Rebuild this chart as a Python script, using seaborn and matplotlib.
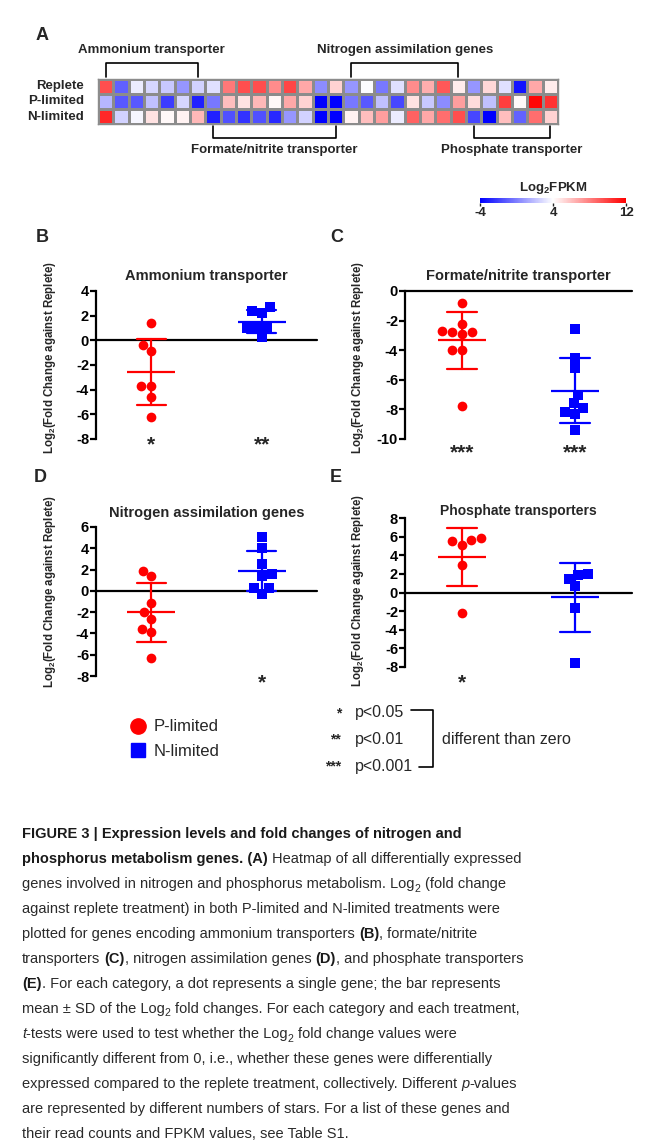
import matplotlib
matplotlib.use("Agg")

import matplotlib.pyplot as plt
import numpy as np
import pandas as pd
import seaborn as sns
from matplotlib import font_manager
from matplotlib.colors import LinearSegmentedColormap
from matplotlib.lines import Line2D

# ── Data ─────────────────────────────────────────────────────────────────────
conditions = ["Replete", "P-limited", "N-limited"]
replete = [9.5, -1.0, 3.4, 2.7, 2.3, 0.7, 2.6, 3.0, 8.2, 9.5, 9.5, 7.6, 9.8, 6.7, 0.4,
           5.4, 0.7, 3.9, -0.2, 3.0, 7.6, 6.5, 9.2, 4.6, 0.7, 5.2, 3.0, -3.4, 6.7, 4.6]
p_limited = [1.7, -1.2, -1.2, 2.0, -2.1, 2.7, -3.0, -0.2, 6.0, 4.9, 6.2, 4.2, 6.7, 5.4, -4.0,
             -4.0, -0.2, -1.2, 2.0, -1.8, 4.9, 2.3, 0.4, 7.0, 5.1, 2.0, 10.0, 4.2, 11.8, 10.4]
n_limited = [10.7, 2.6, 3.7, 4.9, 4.2, 4.4, 6.2, -3.0, -1.5, -2.4, -1.5, -2.7, 0.7, 2.6, -4.0,
             -4.0, 4.4, 6.0, 7.0, 3.4, 8.9, 6.7, 8.5, 9.5, -1.8, -4.0, 6.0, -0.9, 8.5, 5.4]
group_names = ["Ammonium transporter", "Formate/nitrite transporter",
               "Nitrogen assimilation genes", "Phosphate transporter"]
group_sizes = [7, 9, 8, 6]
cbar_ticks = [-4, 4, 12]

treatments = ["P-limited", "N-limited"]
amm_p = [1.4, -0.4, -0.9, -3.7, -3.7, -4.6, -6.2]
amm_n = [2.4, 2.2, 2.7, 1.0, 1.0, 1.0, 0.3]
fn_p = [-0.8, -2.2, -2.8, -2.9, -2.8, -2.7, -4.0, -4.0, -7.8]
fn_n = [-2.6, -4.5, -5.2, -7.0, -7.6, -7.9, -8.2, -8.3, -9.4]
nas_p = [1.9, 1.4, -1.1, -2.0, -2.6, -3.6, -3.9, -6.3]
nas_n = [5.1, 4.0, 2.5, 1.6, 1.4, 0.3, 0.3, -0.3]
pho_p = [5.6, 5.1, 5.5, 5.8, 3.0, -2.2]
pho_n = [1.9, 0.7, 1.5, 2.0, -1.7, -7.6]
stars_b = ["*", "**"]
stars_c = ["***", "***"]
stars_d = ["", "*"]
stars_e = ["*", ""]

sig_stars = ["*", "**", "***"]
sig_labels = ["p<0.05", "p<0.01", "p<0.001"]

caption = [
    [("FIGURE 3 | Expression levels and fold changes of nitrogen and", "b")],
    [("phosphorus metabolism genes. (A)", "b"), (" Heatmap of all differentially expressed", "r")],
    [("genes involved in nitrogen and phosphorus metabolism. Log", "r"), ("2", "sub"),
     (" (fold change", "r")],
    [("against replete treatment) in both P-limited and N-limited treatments were", "r")],
    [("plotted for genes encoding ammonium transporters ", "r"), ("(B)", "b"),
     (", formate/nitrite", "r")],
    [("transporters ", "r"), ("(C)", "b"), (", nitrogen assimilation genes ", "r"), ("(D)", "b"),
     (", and phosphate transporters", "r")],
    [("(E)", "b"), (". For each category, a dot represents a single gene; the bar represents", "r")],
    [("mean \u00b1 SD of the Log", "r"), ("2", "sub"),
     (" fold changes. For each category and each treatment,", "r")],
    [("t", "i"), ("-tests were used to test whether the Log", "r"), ("2", "sub"),
     (" fold change values were", "r")],
    [("significantly different from 0, i.e., whether these genes were differentially", "r")],
    [("expressed compared to the replete treatment, collectively. Different ", "r"), ("p", "i"),
     ("-values", "r")],
    [("are represented by different numbers of stars. For a list of these genes and", "r")],
    [("their read counts and FPKM values, see Table S1.", "r")],
]

# ── Style ────────────────────────────────────────────────────────────────────
sns.set_theme(style="white")
installed = {f.name for f in font_manager.fontManager.ttflist}
if "Liberation Sans Narrow" in installed:
    CAP_FONT, CAP_SIZE = "Liberation Sans Narrow", 12
else:
    CAP_FONT, CAP_SIZE = "Liberation Sans", 10.5
plt.rcParams["font.family"] = ["Liberation Sans", "DejaVu Sans"]
plt.rcParams["axes.unicode_minus"] = False
plt.rcParams["mathtext.fontset"] = "custom"
plt.rcParams["mathtext.rm"] = "Liberation Sans"
plt.rcParams["mathtext.bf"] = "Liberation Sans:bold"

RED, BLUE = "#ff0000", "#0000ff"
W, H = 655, 1145
fig = plt.figure(figsize=(W / 100, H / 100), dpi=100)
fig.patch.set_facecolor("white")


def box(x0, y0, x1, y1):
    """Pixel rectangle (top-left origin) -> figure fraction rect."""
    return [x0 / W, 1 - y1 / H, (x1 - x0) / W, (y1 - y0) / H]


# overlay in pixel coordinates for panel letters, legends and caption
ax_o = fig.add_axes([0, 0, 1, 1])
ax_o.set_xlim(0, W)
ax_o.set_ylim(H, 0)
ax_o.axis("off")

# ── A: heatmap ───────────────────────────────────────────────────────────────
hm = pd.DataFrame([replete, p_limited, n_limited], index=conditions)
cmap = LinearSegmentedColormap.from_list("fpkm", [BLUE, "#ffffff", RED])
ax_h = fig.add_axes(box(98, 79, 558, 124))
cax = fig.add_axes(box(480, 198, 626, 203))
sns.heatmap(hm, ax=ax_h, cmap=cmap, vmin=-4, vmax=12, linewidths=1, linecolor="#8c8c8c",
            xticklabels=False, yticklabels=conditions, cbar_ax=cax,
            cbar_kws={"orientation": "horizontal"})
for lab in ax_h.get_yticklabels():
    lab.set_rotation(0)
    lab.set_fontsize(9.5)
    lab.set_fontweight("bold")
ax_h.tick_params(left=False, pad=4)
ax_h.set_xlabel("")
for sp in ax_h.spines.values():
    sp.set_visible(True)
    sp.set_color("#8c8c8c")
    sp.set_linewidth(1)

cbar = ax_h.collections[0].colorbar
cbar.set_ticks(cbar_ticks)
cbar.outline.set_visible(False)
cax.tick_params(axis="x", length=2, width=1, pad=1, bottom=True, labelsize=9.5)
for lab in cax.get_xticklabels():
    lab.set_fontweight("bold")
cax.set_title("Log$_\\mathbf{2}$FPKM", fontsize=9.5, fontweight="bold", pad=5)

# group brackets
edges = np.concatenate([[0], np.cumsum(group_sizes)])
for k, name in enumerate(group_names):
    x0, x1 = edges[k] + 0.5, edges[k + 1] - 0.5
    if k % 2 == 0:  # above
        ax_h.plot([x0, x0, x1, x1], [-0.15, -1.05, -1.05, -0.15], color="black", lw=1.2,
                  clip_on=False)
        ax_h.text((x0 + x1) / 2, -1.93, name, ha="center", va="center", fontsize=9.5,
                  fontweight="bold")
    else:  # below
        ax_h.plot([x0, x0, x1, x1], [3.15, 3.95, 3.95, 3.15], color="black", lw=1.2,
                  clip_on=False)
        ax_h.text((x0 + x1) / 2, 4.75, name, ha="center", va="center", fontsize=9.5,
                  fontweight="bold")

# ── B–E: scatter panels ──────────────────────────────────────────────────────
panels = [
    dict(rect=(96, 291, 317, 439), p=amm_p, n=amm_n, title="Ammonium transporter",
         ylim=(-8, 4), step=2, stars=stars_b, star_off=8.0, lab=(-0.17, 0.55), pad=8,
         tsize=10.5),
    dict(rect=(405, 291, 632, 439), p=fn_p, n=fn_n, title="Formate/nitrite transporter",
         ylim=(-10, 0), step=2, stars=stars_c, star_off=14.0, lab=(-0.17, 0.55), pad=8,
         tsize=10.5),
    dict(rect=(96, 527, 317, 676), p=nas_p, n=nas_n, title="Nitrogen assimilation genes",
         ylim=(-8, 6), step=2, stars=stars_d, star_off=9.0, lab=(-0.17, 0.57), pad=7,
         tsize=10.5),
    dict(rect=(405, 518, 632, 667), p=pho_p, n=pho_n, title="Phosphate transporters",
         ylim=(-8, 8), step=2, stars=stars_e, star_off=15.5, lab=(-0.17, 0.51), pad=2,
         tsize=10),
]

for cfg in panels:
    ax = fig.add_axes(box(*cfg["rect"]))
    df = pd.DataFrame({
        "treatment": [treatments[0]] * len(cfg["p"]) + [treatments[1]] * len(cfg["n"]),
        "value": cfg["p"] + cfg["n"],
    })
    ax.axhline(0, color="black", lw=1.6, clip_on=False, zorder=1)
    sns.swarmplot(data=df[df.treatment == treatments[0]], x="treatment", y="value",
                  order=treatments, color=RED, marker="o", size=7, linewidth=0, ax=ax,
                  zorder=3)
    sns.swarmplot(data=df[df.treatment == treatments[1]], x="treatment", y="value",
                  order=treatments, color=BLUE, marker="s", size=7, linewidth=0, ax=ax,
                  zorder=3)
    sns.pointplot(data=df, x="treatment", y="value", hue="treatment", order=treatments,
                  hue_order=treatments, palette=[RED, BLUE], errorbar="sd", capsize=0.26,
                  markers="_", markersize=34, markeredgewidth=1.6, linestyles="none",
                  err_kws={"linewidth": 1.6}, legend=False, ax=ax)
    ax.set_xlim(-0.5, 1.5)
    ax.set_ylim(*cfg["ylim"])
    ax.set_yticks(np.arange(cfg["ylim"][0], cfg["ylim"][1] + 1, cfg["step"]))
    sns.despine(ax=ax, bottom=True)
    ax.spines["left"].set_linewidth(1.6)
    ax.spines["left"].set_color("black")
    ax.set_xticks([])
    ax.set_xlabel("")
    ax.tick_params(axis="y", left=True, direction="out", length=4, width=1.6, labelsize=10.5,
                   pad=1, colors="black")
    for lab in ax.get_yticklabels():
        lab.set_fontweight("bold")
    ax.set_ylabel("Log$_\\mathbf{2}$(Fold Change against Replete)", fontsize=8.3,
                  fontweight="bold")
    ax.yaxis.set_label_coords(*cfg["lab"])
    ax.set_title(cfg["title"], fontsize=cfg["tsize"], fontweight="bold", pad=cfg["pad"])
    for i, s in enumerate(cfg["stars"]):
        if s:
            ax.annotate(s, xy=(i, cfg["ylim"][0]), xytext=(0, -cfg["star_off"]),
                        textcoords="offset points", ha="center", va="baseline",
                        fontsize=15, fontweight="bold", annotation_clip=False)

# panel letters
for letter, (lx, ly) in zip("ABCDE", [(42, 36), (42, 238), (337, 238), (40, 478), (336, 478)]):
    ax_o.text(lx, ly, letter, ha="center", va="center", fontsize=13, fontweight="bold")

# ── Legends ──────────────────────────────────────────────────────────────────
handles = [
    Line2D([], [], marker="o", color=RED, linestyle="none", markersize=11),
    Line2D([], [], marker="s", color=BLUE, linestyle="none", markersize=10),
]
fig.legend(handles, treatments, loc="center left", bbox_to_anchor=(130 / W, 1 - 739 / H),
           frameon=False, fontsize=12, handlelength=1, handletextpad=0.4, labelspacing=0.55,
           borderpad=0, borderaxespad=0)

for k, (s, lab) in enumerate(zip(sig_stars, sig_labels)):
    yy = 713 + 26.5 * k
    ax_o.text(341, yy, s, ha="right", va="center", fontsize=10, fontweight="bold")
    ax_o.text(355, yy, lab, ha="left", va="center", fontsize=11.5)
ax_o.plot([411, 433, 433, 419], [710, 710, 767, 767], color="black", lw=1.2)
ax_o.text(442, 740, "different than zero", ha="left", va="center", fontsize=11.5)

# ── Caption ──────────────────────────────────────────────────────────────────
renderer = fig.canvas.get_renderer()
CAP_STYLES = {
    "b": dict(family=CAP_FONT, fontsize=CAP_SIZE, fontweight="bold", color="#1a1a1a"),
    "r": dict(family=CAP_FONT, fontsize=CAP_SIZE, color="#2a2a2a"),
    "i": dict(family=CAP_FONT, fontsize=CAP_SIZE, style="italic", color="#2a2a2a"),
    "sub": dict(family=CAP_FONT, fontsize=CAP_SIZE * 0.72, color="#2a2a2a"),
}
SUB_DROP = 3.5


def text_width(s, kw):
    t = ax_o.text(0, 0, s, **kw)
    w = t.get_window_extent(renderer).width
    t.remove()
    return w


space_w = {k: text_width("n n", kw) - text_width("nn", kw) for k, kw in CAP_STYLES.items()}


def rich_line(x, y, parts):
    for s, style in parts:
        kw = CAP_STYLES[style]
        lead = len(s) - len(s.lstrip(" "))
        trail = len(s) - len(s.rstrip(" "))
        x += lead * space_w[style]
        dy = SUB_DROP if style == "sub" else 0
        t = ax_o.text(x, y + dy, s.strip(" "), ha="left", va="baseline", **kw)
        x += t.get_window_extent(renderer).width + trail * space_w[style]
        if style == "sub":
            x += 0.5


for i, parts in enumerate(caption):
    rich_line(22, 838 + 25 * i, parts)

fig.savefig("out.png", dpi=100, facecolor="white")
